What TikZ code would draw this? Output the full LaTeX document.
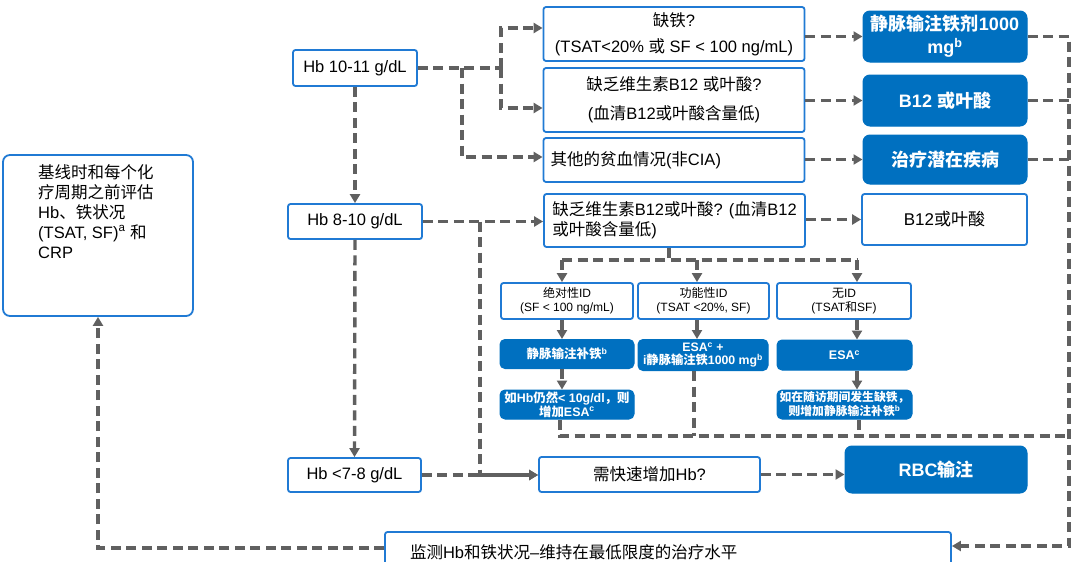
\documentclass[tikz,border=0pt]{standalone}
\usepackage{fontspec}
\setmainfont{Liberation Sans}
\newfontfamily\cjk{Noto Sans CJK SC}
\newcommand\z[1]{{\cjk #1}}
\newcommand\fm{\fontsize{16.5}{20}\selectfont}
\newcommand\fsm{\fontsize{12}{14}\selectfont}
\newcommand\fbg{\fontsize{18}{23}\selectfont}
\usetikzlibrary{arrows.meta}
\definecolor{bd}{RGB}{32,122,212}
\definecolor{bf}{RGB}{0,112,192}
\definecolor{ln}{RGB}{96,96,96}
\tikzset{
  wbox/.style={draw=bd, line width=1.8pt, fill=white, rounded corners=2.5pt, inner sep=0pt, text=black},
  bbox/.style={draw=bf, fill=bf, line width=1pt, rounded corners=7pt, inner sep=0pt, text=white},
  conn/.style={draw=ln, line width=3.4pt, dash pattern=on 10pt off 5.5pt},
  arr/.style={-{Triangle[length=9pt,width=10pt]}}
}
\begin{document}
\begin{tikzpicture}[x=1pt,y=-1pt]
\useasboundingbox[fill=white] (0,0) rectangle (1080,562);

% left box
\node[wbox, rounded corners=7pt, minimum width=190, minimum height=161] (base) at (98,235.5) {};
\node[anchor=north west, align=left, inner sep=0pt, font=\fm] (basetxt) at (38,164)
  {\z{基线时和每个化}\\\z{疗周期之前评估}\\Hb\z{、铁状况}\\(TSAT, SF)\textsuperscript{a} \z{和}\\CRP};

% top rows
\node[wbox, minimum width=124, minimum height=36, font=\fm] (h1) at (355,68) {Hb 10-11 g/dL};
\node[wbox, minimum width=261, minimum height=54, font=\fm, align=center] (q1) at (674,34)
  {\z{缺铁}?\\[6pt](TSAT<20\% \z{或} SF < 100 ng/mL)};
\node[wbox, minimum width=261, minimum height=64, font=\fm, align=center] (q2) at (674,100)
  {\z{缺乏维生素}B12 \z{或叶酸}?\\[9pt](\z{血清}B12\z{或叶酸含量低})};
\node[wbox, minimum width=261, minimum height=44, font=\fm, text width=247, align=left] (q3) at (674,160)
  {\z{其他的贫血情况}(\z{非}CIA)};
\node[bbox, minimum width=164, minimum height=51, font=\bfseries\fbg, align=center] (t1) at (945,36.5)
  {\z{静脉输注铁剂}1000\\mg\textsuperscript{b}};
\node[bbox, minimum width=164, minimum height=51, font=\bfseries\fbg] (t2) at (945,100.5) {B12 \z{或叶酸}};
\node[bbox, minimum width=164, minimum height=49, font=\bfseries\fbg] (t3) at (945,159.5) {\z{治疗潜在疾病}};

% middle
\node[wbox, minimum width=134, minimum height=35, font=\fm] (h2) at (355,221.5) {Hb 8-10 g/dL};
\node[wbox, minimum width=261, minimum height=53, font=\fm, align=left] (q4) at (674.5,220.5)
  {\z{缺乏维生素}B12\z{或叶酸}? (\z{血清}B12\\\z{或叶酸含量低})};
\node[wbox, minimum width=165, minimum height=51, font=\fontsize{17}{20}\selectfont] (t4) at (944.5,219.5) {B12\z{或叶酸}};

\node[wbox, minimum width=132, minimum height=36, font=\fsm, align=center] (s1) at (567,301)
  {\z{绝对性}ID\\(SF < 100 ng/mL)};
\node[wbox, minimum width=131, minimum height=36, font=\fsm, align=center] (s2) at (703.5,301)
  {\z{功能性}ID\\(TSAT <20\%, SF)};
\node[wbox, minimum width=134, minimum height=36, font=\fsm, align=center] (s3) at (844,301)
  {\z{无}ID\\(TSAT\z{和}SF)};

\node[bbox, rounded corners=5pt, minimum width=134, minimum height=29, font=\bfseries\fontsize{12.5}{14}\selectfont] (b1) at (567,354)
  {\z{静脉输注补铁}\textsuperscript{b}};
\node[bbox, rounded corners=5pt, minimum width=130, minimum height=31, font=\bfseries\fontsize{12.3}{13.5}\selectfont, align=center] (b2) at (703,355)
  {ESA\textsuperscript{c} +\\i\z{静脉输注铁}1000 mg\textsuperscript{b}};
\node[bbox, rounded corners=5pt, minimum width=135, minimum height=30, font=\bfseries\fontsize{12.5}{14}\selectfont] (b3) at (844.5,355)
  {ESA\textsuperscript{c}};
\node[bbox, rounded corners=5pt, minimum width=134, minimum height=29, font=\bfseries\fontsize{12.4}{14}\selectfont, align=center] (c1) at (567,404.5)
  {\z{如}Hb\z{仍然}< 10g/dl\z{，则}\\\z{增加}ESA\textsuperscript{c}};
\node[bbox, rounded corners=5pt, minimum width=135, minimum height=29, font=\bfseries\fontsize{11.8}{14}\selectfont, align=center] (c3) at (844.5,404.5)
  {\z{如在随访期间发生缺铁，}\\\z{则增加静脉输注补铁}\textsuperscript{b}};

% bottom
\node[wbox, minimum width=133, minimum height=34, font=\fm] (h3) at (354.5,475) {Hb <7-8 g/dL};
\node[wbox, minimum width=221, minimum height=35, font=\fm] (q5) at (649.5,474.5) {\z{需快速增加}Hb?};
\node[bbox, minimum width=182, minimum height=47, font=\bfseries\fbg] (t5) at (936,469.5) {RBC\z{输注}};
\node[wbox, minimum width=566, minimum height=40, font=\fm, text width=516, align=left] (mon) at (668,552)
  {\z{监测}Hb\z{和铁状况}\textendash\z{维持在最低限度的治疗水平}};

% coordinates
\coordinate (R) at (1069,0);
\coordinate (ja) at (501,28);
\coordinate (jb) at (501,108);
\coordinate (jc) at (462,157);
\coordinate (jd) at (480,0);
\coordinate (rb) at (1069,546);
\coordinate (lb) at (98,548);
\coordinate (hb) at (669,260);
\coordinate (xa) at (562,0);
\coordinate (xb) at (697,0);
\coordinate (xc) at (857,0);
\coordinate (xd) at (694,0);
\coordinate (xe) at (859,0);
\coordinate (bl) at (560,436);

% connectors top
\draw[conn] (h1.east) -- (h1.east -| ja);
\draw[conn,arr] (h1.east -| ja) |- (q1.west |- ja);
\draw[conn,arr] (h1.east -| ja) |- (q2.west |- jb);
\draw[conn,arr] (h1.east -| jc) |- (q3.west |- jc);
\draw[conn,arr] (q1.east |- t1.west) -- (t1.west);
\draw[conn,arr] (q2.east |- t2.west) -- (t2.west);
\draw[conn,arr] (q3.east |- t3.west) -- (t3.west);
\draw[conn] (t2.east) -- (t2.east -| R);
\draw[conn] (t3.east) -- (t3.east -| R);
\draw[conn,arr] (t1.east) -| (rb) -- (mon.east |- rb);

% vertical Hb chain
\draw[conn,arr] (h1.south) -- (h2.north);
\draw[conn,arr] (h2.south) -- (h3.north);

% middle
\draw[conn,arr] (h2.east) -- (q4.west |- h2.east);
\draw[conn,arr] (h2.east -| jd) |- (q5.west |- h3.east);
\draw[conn,arr] (h3.east) -- (q5.west |- h3.east);
\draw[conn,arr] (q4.east |- t4.west) -- (t4.west);
\draw[conn,arr] (q5.east) -- (t5.west |- q5.east);

\draw[conn] (q4.south -| hb) -- (hb);
\draw[conn] (hb -| xa) -- (hb -| xc);
\draw[conn,arr] (hb -| xa) -- (s1.north -| xa);
\draw[conn,arr] (hb -| xb) -- (s2.north -| xb);
\draw[conn,arr] (hb -| xc) -- (s3.north -| xc);
\draw[conn,arr] (s1.south -| xa) -- (b1.north -| xa);
\draw[conn,arr] (b1.south -| xa) -- (c1.north -| xa);
\draw[conn,arr] (s2.south -| xb) -- (b2.north -| xb);
\draw[conn,arr] (s3.south -| xc) -- (b3.north -| xc);
\draw[conn,arr] (b3.south -| xc) -- (c3.north -| xc);

\draw[conn] (c1.south -| bl) -- (bl) -- (bl -| R);
\draw[conn] (b2.south -| xd) -- (bl -| xd);
\draw[conn] (c3.south -| xe) -- (bl -| xe);

% return
\draw[conn,arr] (mon.west |- lb) -- (lb) -- (base.south);
\end{tikzpicture}
\end{document}
